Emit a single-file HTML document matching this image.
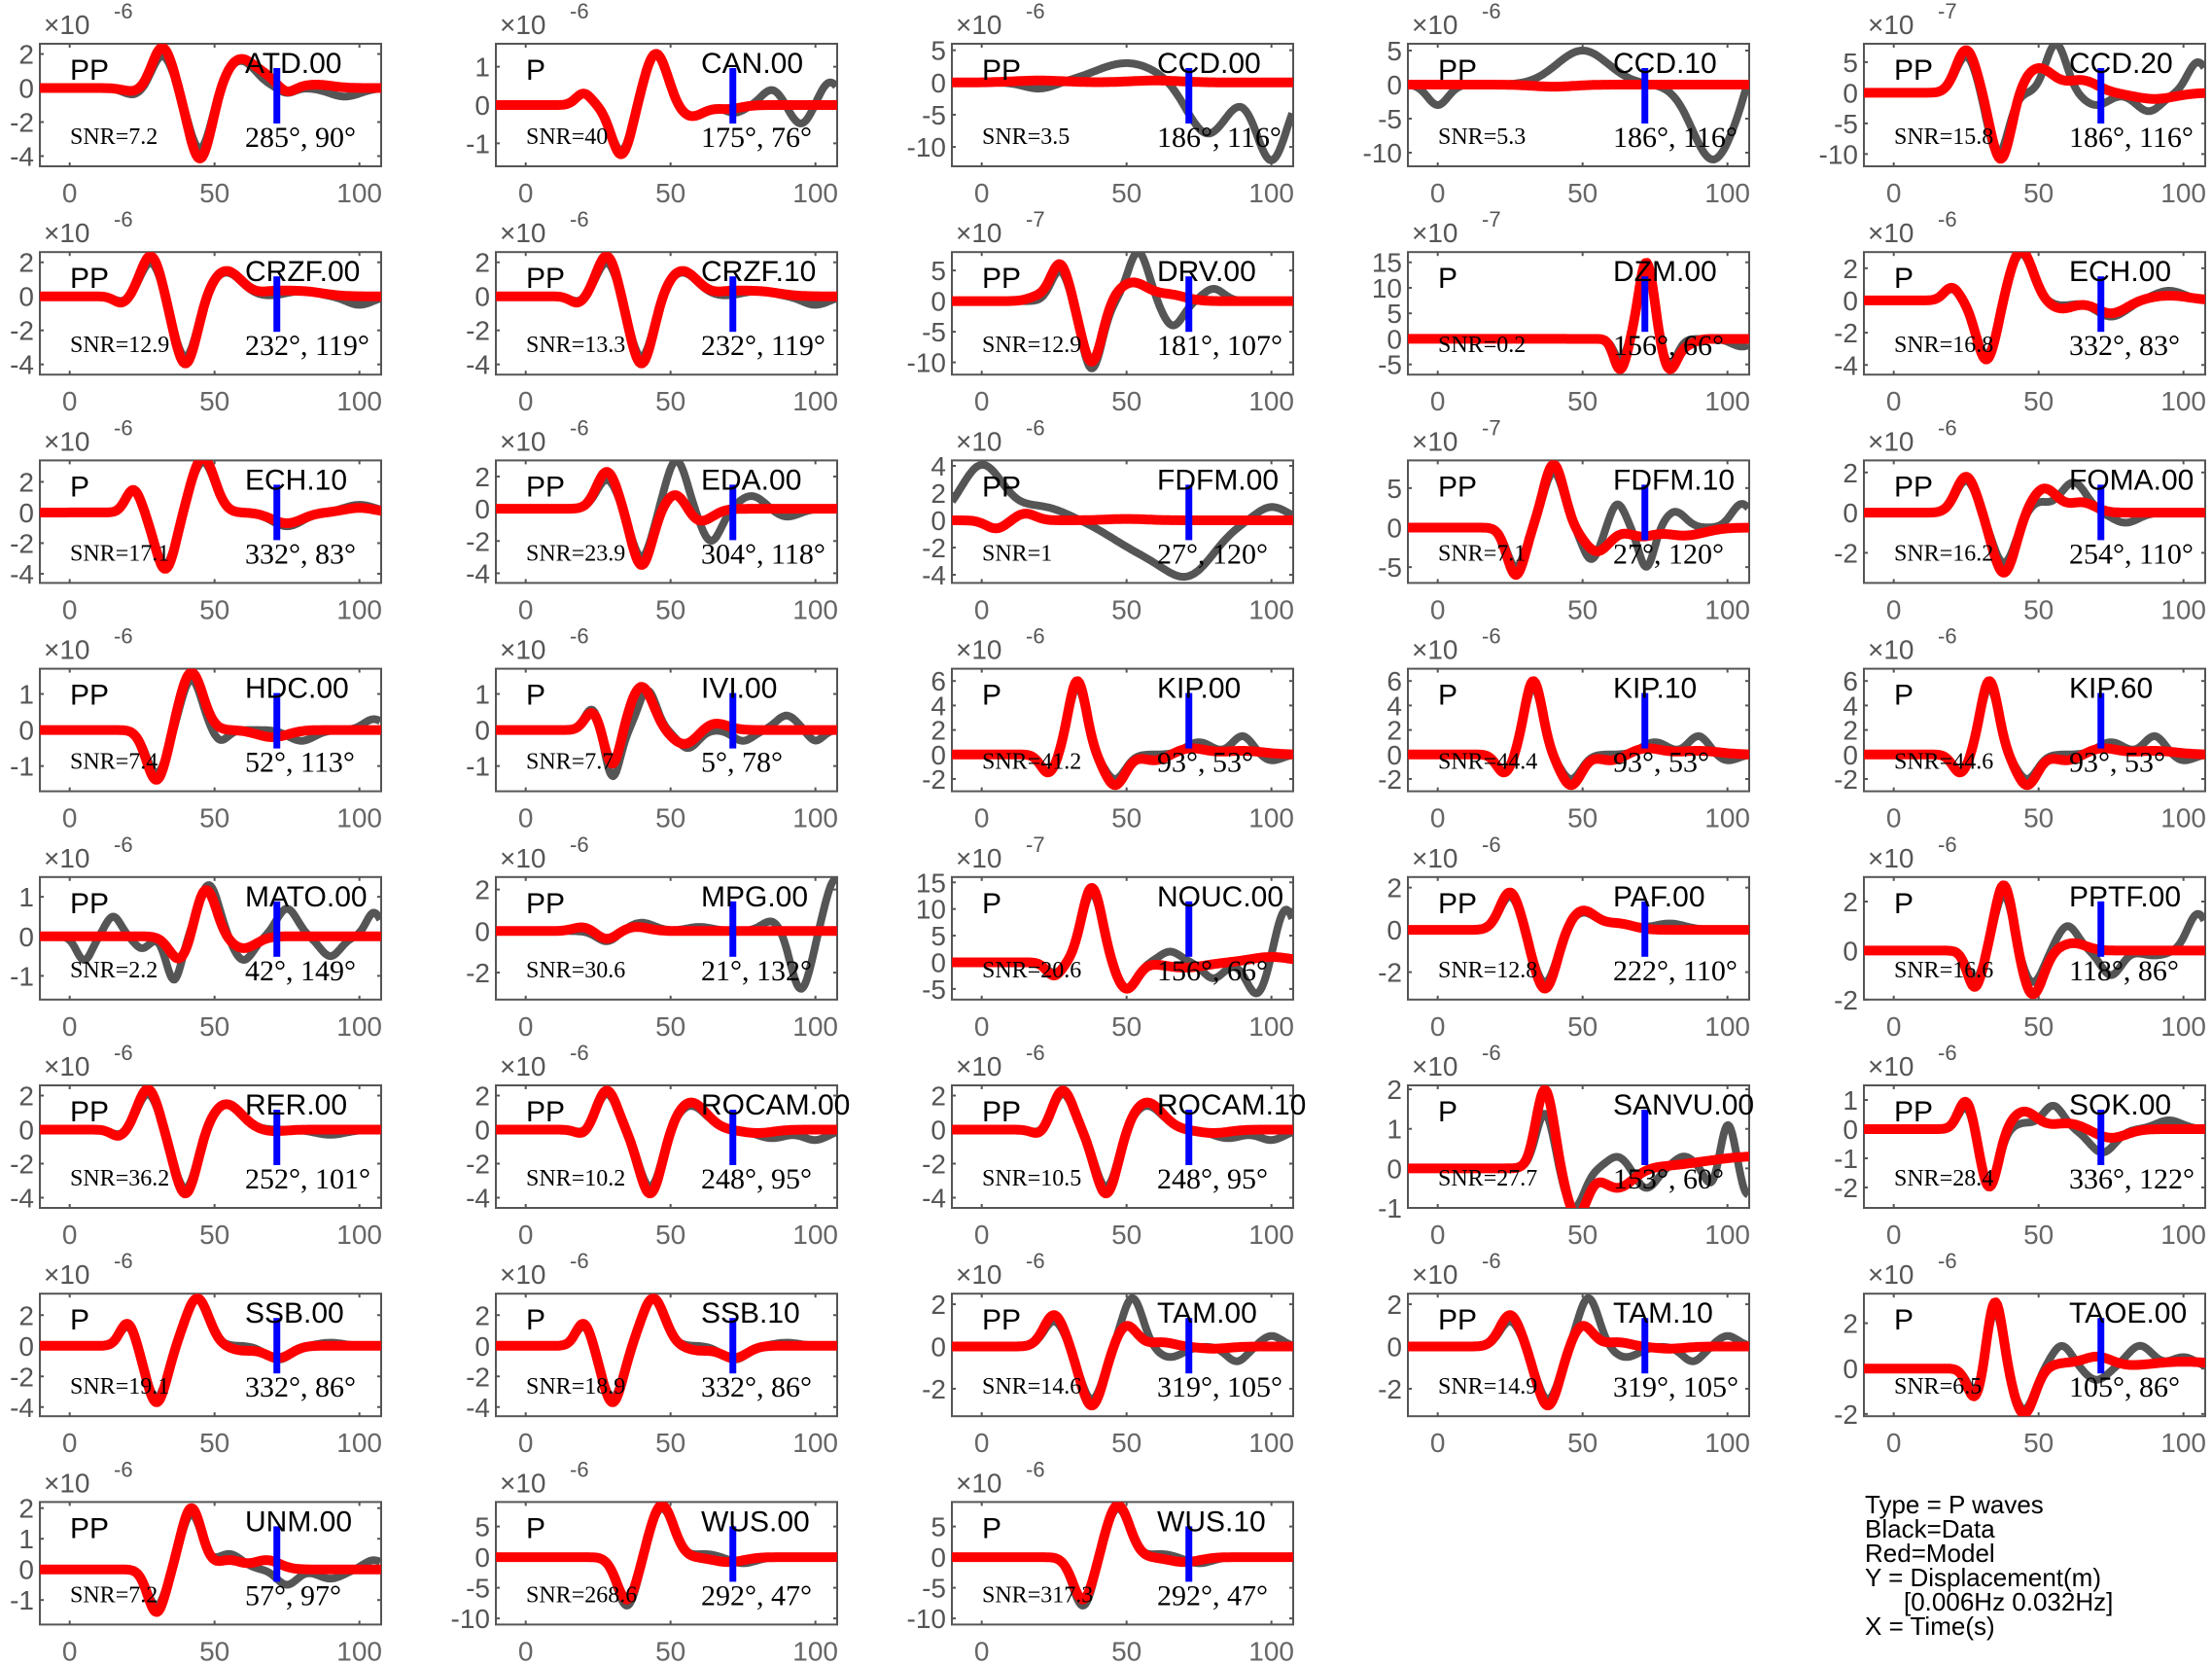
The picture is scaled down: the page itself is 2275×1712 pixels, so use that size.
<!DOCTYPE html>
<html><head><meta charset="utf-8"><style>
html,body{margin:0;padding:0;background:#fff;}
svg{display:block;}
.tk{font-family:"Liberation Sans",sans-serif;font-size:28px;fill:#555;}
.xt{font-family:"Liberation Sans",sans-serif;font-size:28px;fill:#666;}
.an{font-family:"Liberation Sans",sans-serif;font-size:30px;fill:#000;}
.sr{font-family:"Liberation Serif",serif;fill:#000;}
.lg{font-family:"Liberation Sans",sans-serif;font-size:26px;fill:#000;}
</style></head><body>
<svg id="s" width="2275" height="1712" viewBox="0 0 2275 1712" xmlns="http://www.w3.org/2000/svg">
<text class="lg" x="1918" y="1556">Type = P waves</text>
<text class="lg" x="1918" y="1581">Black=Data</text>
<text class="lg" x="1918" y="1606">Red=Model</text>
<text class="lg" x="1918" y="1631">Y = Displacement(m)</text>
<text class="lg" x="1958" y="1656">[0.006Hz 0.032Hz]</text>
<text class="lg" x="1918" y="1681">X = Time(s)</text>
</svg>
<script>
const P=[
["ATD.00","PP","7.2","285°, 90°",-6,[2,0,-2,-4],[-4.6,2.6],[[22,-0.2,4],[32,2.4,4],[45,-4.2,4.5],[59,1.7,6],[68,0.4,4],[75,-0.3,3],[85,0.2,6]],[[22,-0.4,4],[32,1.9,4],[45,-3.6,4.5],[59,1.6,6],[75,-0.3,3],[95,-0.5,6]]],
["CAN.00","P","40","175°, 76°",-6,[1,0,-1],[-1.6,1.6],[[20,0.3,3],[33,-1.3,4],[45,1.35,4.5],[57,-0.3,5],[70,-0.1,5]],[[20,0.3,3],[33,-1.2,4],[45,1.3,4.5],[57,-0.3,5],[72,-0.2,4],[85,0.4,4],[95,-0.5,4],[105,0.6,4]]],
["CCD.00","PP","3.5","186°, 116°",-6,[5,0,-5,-10],[-13,6],[[20,0.3,10],[60,0.3,10]],[[20,-1,6],[50,3,12],[78,-8,8],[100,-12,6]]],
["CCD.10","PP","5.3","186°, 116°",-6,[5,0,-5,-10],[-12,6],[[40,-0.3,8]],[[0,-3,4],[50,5,10],[95,-11,8],[110,4,4]]],
["CCD.20","PP","15.8","186°, 116°",-7,[5,0,-5,-10],[-12,8],[[25,7,4],[37,-11,4],[50,4,6],[65,2,6],[90,-1,8]],[[25,6,4],[36,-10,4],[56,8,4],[70,-2,5],[88,-3,5],[105,5,4]]],
["CRZF.00","PP","12.9","232°, 119°",-6,[2,0,-2,-4],[-4.6,2.6],[[18,-0.4,3],[28,2.4,4],[40,-4,4.5],[54,1.5,6],[70,0.2,5],[80,0.3,8]],[[18,-0.3,3],[28,2.0,4],[40,-3.6,4.5],[54,1.4,6],[80,0.3,6],[100,-0.5,5]]],
["CRZF.10","PP","13.3","232°, 119°",-6,[2,0,-2,-4],[-4.6,2.6],[[18,-0.4,3],[28,2.4,4],[40,-4,4.5],[54,1.5,6],[70,0.2,5],[80,0.3,8]],[[18,-0.3,3],[28,2.0,4],[40,-3.6,4.5],[54,1.4,6],[80,0.3,6],[100,-0.5,5]]],
["DRV.00","PP","12.9","181°, 107°",-7,[5,0,-5,-10],[-12,8],[[20,0.8,4],[27,6,3.5],[38,-10,4],[52,3,6],[65,1,6]],[[27,5,3.5],[38,-11,4],[54,8,4],[66,-4,4],[80,2,4]]],
["DZM.00","P","0.2","156°, 66°",-7,[15,10,5,0,-5],[-7,17],[[63,-6,2.5],[72,15,3],[80,-6,3],[86,-1,3]],[[63,-4,2.5],[72,14,3],[80,-5,3],[105,-1.5,4]]],
["ECH.00","P","16.8","332°, 83°",-6,[2,0,-2,-4],[-4.6,3],[[20,0.8,3],[32,-3.7,4],[44,3.1,4.5],[58,-0.5,5],[75,-0.8,6],[95,0.3,8]],[[20,0.7,3],[32,-3.4,4],[44,2.9,4.5],[58,-0.3,5],[75,-1,6],[95,0.6,6]]],
["ECH.10","P","17.1","332°, 83°",-6,[2,0,-2,-4],[-4.6,3.4],[[22,1.5,3],[33,-3.7,4],[46,3.6,4.5],[60,0,5],[75,-0.7,6],[100,0.3,6]],[[22,1.4,3],[33,-3.4,4],[46,3.3,4.5],[75,-0.9,6],[100,0.5,6]]],
["EDA.00","PP","23.9","304°, 118°",-6,[2,0,-2,-4],[-4.6,3],[[28,2.3,4],[40,-3.5,4],[52,1,4],[60,-0.8,5]],[[28,1.8,4],[40,-3,4],[52,3,4],[64,-2,4],[78,0.8,5],[90,-0.5,5]]],
["FDFM.00","PP","1","27°, 120°",-6,[4,2,0,-2,-4],[-4.6,4.4],[[5,-0.6,4],[15,0.5,4],[50,0.1,8]],[[0,4,8],[20,1,10],[55,-2,12],[72,-3.5,10],[100,1,6]]],
["FDFM.10","PP","7.1","27°, 120°",-7,[5,0,-5],[-7,8.5],[[27,-6,3.5],[40,8,4],[55,-3,5],[70,-1,5],[85,-1,8]],[[27,-5,3.5],[40,7,4],[53,-4,3.5],[62,3,3],[72,-5,3],[82,2,4],[105,3,4]]],
["FOMA.00","PP","16.2","254°, 110°",-6,[2,0,-2],[-3.5,2.6],[[25,1.8,4],[38,-3,4.5],[52,1.2,5],[65,0.5,5]],[[25,1.6,4],[38,-2.5,4.5],[50,0.5,4],[62,1.5,5],[80,-0.5,5]]],
["HDC.00","PP","7.4","52°, 113°",-6,[1,0,-1],[-1.7,1.7],[[30,-1.4,4],[42,1.6,4.5],[70,-0.2,6]],[[30,-1.2,4],[42,1.4,4],[52,-0.3,3],[80,-0.3,5],[105,0.3,4]]],
["IVI.00","P","7.7","5°, 78°",-6,[1,0,-1],[-1.7,1.7],[[23,0.5,3],[30,-1,3],[40,1.2,4.5],[55,-0.4,5],[65,0.2,5]],[[23,0.6,3],[30,-1.3,3],[42,1.1,3.5],[56,-0.5,4],[75,-0.3,4],[90,0.4,4],[100,-0.3,3]]],
["KIP.00","P","41.2","93°, 53°",-6,[6,4,2,0,-2],[-3,7],[[23,-1.5,3],[33,6,3.5],[46,-2.5,4],[60,-0.5,5],[72,0.5,6],[90,0.3,8]],[[23,-1.5,3],[33,5.5,3.5],[46,-2,4],[75,1,5],[90,1.5,4],[100,-0.5,4]]],
["KIP.10","P","44.4","93°, 53°",-6,[6,4,2,0,-2],[-3,7],[[23,-1.5,3],[33,6,3.5],[46,-2.5,4],[60,-0.5,5],[72,0.5,6],[90,0.3,8]],[[23,-1.5,3],[33,5.5,3.5],[46,-2,4],[75,1,5],[90,1.5,4],[100,-0.5,4]]],
["KIP.60","P","44.6","93°, 53°",-6,[6,4,2,0,-2],[-3,7],[[23,-1.5,3],[33,6,3.5],[46,-2.5,4],[60,-0.5,5],[72,0.5,6],[90,0.3,8]],[[23,-1.5,3],[33,5.5,3.5],[46,-2,4],[75,1,5],[90,1.5,4],[100,-0.5,4]]],
["MATO.00","PP","2.2","42°, 149°",-6,[1,0,-1],[-1.6,1.5],[[38,-0.6,4],[47,1.2,4],[60,-0.3,5]],[[5,-0.6,3],[15,0.5,3],[25,-0.3,3],[36,-1.1,3],[48,1.3,4],[60,-0.6,4],[75,0.7,4],[90,-0.5,4],[105,0.6,3]]],
["MPG.00","PP","30.6","21°, 132°",-6,[2,0,-2],[-3.3,2.6],[[20,0.2,4],[28,-0.4,4],[38,0.2,5]],[[28,-0.5,4],[40,0.4,5],[60,0.2,5],[85,0.5,4],[95,-2.8,4],[107,2.5,4]]],
["NOUC.00","P","20.6","156°, 66°",-7,[15,10,5,0,-5],[-7,16],[[25,-2.5,3],[38,14,4],[50,-5,4],[70,-1,8],[100,1,8]],[[25,-2,3],[38,13,4],[50,-5,4],[65,2,4],[80,-3,4],[95,-6,4],[105,10,4]]],
["PAF.00","PP","12.8","222°, 110°",-6,[2,0,-2],[-3.3,2.5],[[25,1.8,4],[37,-2.8,4.5],[50,0.9,5],[62,0.3,6]],[[25,1.6,4],[37,-2.5,4.5],[50,0.8,5],[62,0.3,6],[80,0.3,6]]],
["PPTF.00","P","16.6","118°, 86°",-6,[2,0,-2],[-2,3],[[28,-1.5,3],[38,2.7,3.5],[48,-1.8,4],[62,0.3,5]],[[28,-1.2,3],[38,2.3,3.5],[48,-1.3,4],[60,1,4],[75,-1,4],[90,-0.2,5],[105,1.5,4]]],
["RER.00","PP","36.2","252°, 101°",-6,[2,0,-2,-4],[-4.6,2.6],[[17,-0.4,3],[27,2.4,4],[40,-3.8,4.5],[54,1.5,6],[70,-0.1,5]],[[17,-0.3,3],[27,2.1,4],[40,-3.5,4.5],[54,1.5,6],[90,-0.3,6]]],
["ROCAM.00","PP","10.2","248°, 95°",-6,[2,0,-2,-4],[-4.6,2.6],[[20,-0.3,3],[28,2.3,4],[43,-3.8,4.5],[57,1.6,6],[80,-0.2,6]],[[20,-0.2,3],[28,2.1,4],[43,-3.4,4.5],[57,1.4,6],[85,-0.5,6],[100,-0.6,5]]],
["ROCAM.10","PP","10.5","248°, 95°",-6,[2,0,-2,-4],[-4.6,2.6],[[20,-0.3,3],[28,2.3,4],[43,-3.8,4.5],[57,1.6,6],[80,-0.2,6]],[[20,-0.2,3],[28,2.1,4],[43,-3.4,4.5],[57,1.4,6],[85,-0.5,6],[100,-0.6,5]]],
["SANVU.00","P","27.7","153°, 60°",-6,[2,1,0,-1],[-1,2.1],[[37,2.0,3.5],[48,-1.2,4],[62,-0.5,6],[110,0.3,20]],[[37,1.4,3.5],[47,-1,4],[62,0.3,4],[72,-0.5,4],[85,0.3,4],[95,-0.5,3],[100,1.2,3],[107,-0.7,3]]],
["SOK.00","PP","28.4","336°, 122°",-6,[1,0,-1,-2],[-2.7,1.5],[[25,1,3],[33,-2,3.5],[45,0.6,5],[60,0.2,6],[75,-0.3,6]],[[25,0.8,3],[33,-2,3.5],[45,0.2,4],[55,0.8,4],[72,-0.8,5],[95,0.3,5]]],
["SSB.00","P","19.1","332°, 86°",-6,[2,0,-2,-4],[-4.6,3.4],[[20,1.5,3],[30,-3.7,4],[44,3.1,4.5],[60,-0.3,5],[72,-0.8,5]],[[20,1.3,3],[30,-3.4,4],[44,3.1,4.5],[72,-0.9,5],[90,0.2,5]]],
["SSB.10","P","18.9","332°, 86°",-6,[2,0,-2,-4],[-4.6,3.4],[[20,1.5,3],[30,-3.7,4],[44,3.1,4.5],[60,-0.3,5],[72,-0.8,5]],[[20,1.3,3],[30,-3.4,4],[44,3.1,4.5],[72,-0.9,5],[90,0.2,5]]],
["TAM.00","PP","14.6","319°, 105°",-6,[2,0,-2],[-3.3,2.5],[[25,1.5,4],[38,-2.8,4.5],[50,1,4],[62,0.2,5],[80,-0.1,6]],[[25,1.2,4],[38,-2.5,4.5],[52,2.3,4],[65,-0.5,5],[88,-0.7,4],[100,0.5,4]]],
["TAM.10","PP","14.9","319°, 105°",-6,[2,0,-2],[-3.3,2.5],[[25,1.5,4],[38,-2.8,4.5],[50,1,4],[62,0.2,5],[80,-0.1,6]],[[25,1.2,4],[38,-2.5,4.5],[52,2.3,4],[65,-0.5,5],[88,-0.7,4],[100,0.5,4]]],
["TAOE.00","P","6.5","105°, 86°",-6,[2,0,-2],[-2.1,3.3],[[28,-1.3,3],[35,3,3],[45,-2,4],[58,0.2,5],[70,0.5,6],[100,0.3,15]],[[28,-1,3],[35,2.6,3],[45,-1.8,4],[58,1,4],[70,-0.5,4],[85,1,5],[100,0.5,5]]],
["UNM.00","PP","7.2","57°, 97°",-6,[2,1,0,-1],[-1.8,2.2],[[30,-1.4,3.5],[42,2,4],[55,0.3,5],[68,0.3,5]],[[30,-1.2,3.5],[42,1.8,4],[55,0.5,5],[75,-0.5,4],[90,-0.3,5],[105,0.3,4]]],
["WUS.00","P","268.6","292°, 47°",-6,[5,0,-5,-10],[-11,9],[[35,-7,4],[47,8.5,4.5],[60,0,5],[70,-0.8,6]],[[35,-8,4],[47,8,4.5],[62,0.5,5],[75,-1,5]]],
["WUS.10","P","317.3","292°, 47°",-6,[5,0,-5,-10],[-11,9],[[35,-7,4],[47,8.5,4.5],[60,0,5],[70,-0.8,6]],[[35,-8,4],[47,8,4.5],[62,0.5,5],[75,-1,5]]]
];
const W=351,H=126,T0=-10.3,T1=107.5;
let s='';
function f(b,t){let v=0;for(const q of b){const u=(t-q[0])/(q[2]*1.25);v+=q[1]*Math.exp(-(u*u));}return v;}
P.forEach((p,i)=>{
 const r=Math.floor(i/5),c=i%5;
 const L=41+469*c,Tp=45+214.2*r;
 const nm=p[0],ty=p[1],snr=p[2],ang=p[3],ex=p[4],tk=p[5],yl=p[6],red=p[7],gr=p[8];
 const X=t=>L+(t-T0)/(T1-T0)*W, Y=v=>Tp+H-(v-yl[0])/(yl[1]-yl[0])*H;
 s+=`<clipPath id="c${i}"><rect x="${L}" y="${Tp}" width="${W}" height="${H}"/></clipPath>`;
 s+=`<rect x="${L}" y="${Tp}" width="${W}" height="${H}" fill="#fff" stroke="#555" stroke-width="2"/>`;
 for(const t of [0,50,100]){const x=X(t);s+=`<line x1="${x}" y1="${Tp+H}" x2="${x}" y2="${Tp+H-4}" stroke="#555" stroke-width="2"/><line x1="${x}" y1="${Tp}" x2="${x}" y2="${Tp+4}" stroke="#555" stroke-width="2"/><text class="xt" x="${x}" y="${Tp+H+37}" text-anchor="middle">${t}</text>`;}
 for(const v of tk){const y=Y(v);s+=`<line x1="${L}" y1="${y}" x2="${L+4}" y2="${y}" stroke="#555" stroke-width="2"/><line x1="${L+W}" y1="${y}" x2="${L+W-4}" y2="${y}" stroke="#555" stroke-width="2"/><text class="tk" x="${L-6}" y="${y+10}" text-anchor="end">${v}</text>`;}
 s+=`<text class="tk" x="${L+4}" y="${Tp-10}">×10</text><text class="tk" x="${L+76}" y="${Tp-26}" style="font-size:22px">${ex}</text>`;
 let dg='',dr='';
 for(let t=T0;t<=T1+0.01;t+=0.5){dg+=(dg?'L':'M')+X(t).toFixed(1)+' '+Y(f(gr,t)).toFixed(1);dr+=(dr?'L':'M')+X(t).toFixed(1)+' '+Y(f(red,t)).toFixed(1);}
 s+=`<g clip-path="url(#c${i})"><path d="${dg}" fill="none" stroke="#555" stroke-width="8" stroke-linejoin="round"/><path d="${dr}" fill="none" stroke="#f00" stroke-width="10" stroke-linejoin="round" stroke-linecap="round"/></g>`;
 s+=`<rect x="${X(71.5)-3.5}" y="${Tp+25}" width="7" height="57" fill="#00f"/>`;
 s+=`<text class="an" x="${L+31}" y="${Tp+37}">${ty}</text><text class="an" x="${L+211}" y="${Tp+30}">${nm}</text>`;
 s+=`<text class="sr" x="${L+31}" y="${Tp+103}" style="font-size:24px">SNR=${snr}</text><text class="sr" x="${L+211}" y="${Tp+106}" style="font-size:30px">${ang}</text>`;
});
document.getElementById('s').insertAdjacentHTML('afterbegin',s);
</script>
</body></html>
